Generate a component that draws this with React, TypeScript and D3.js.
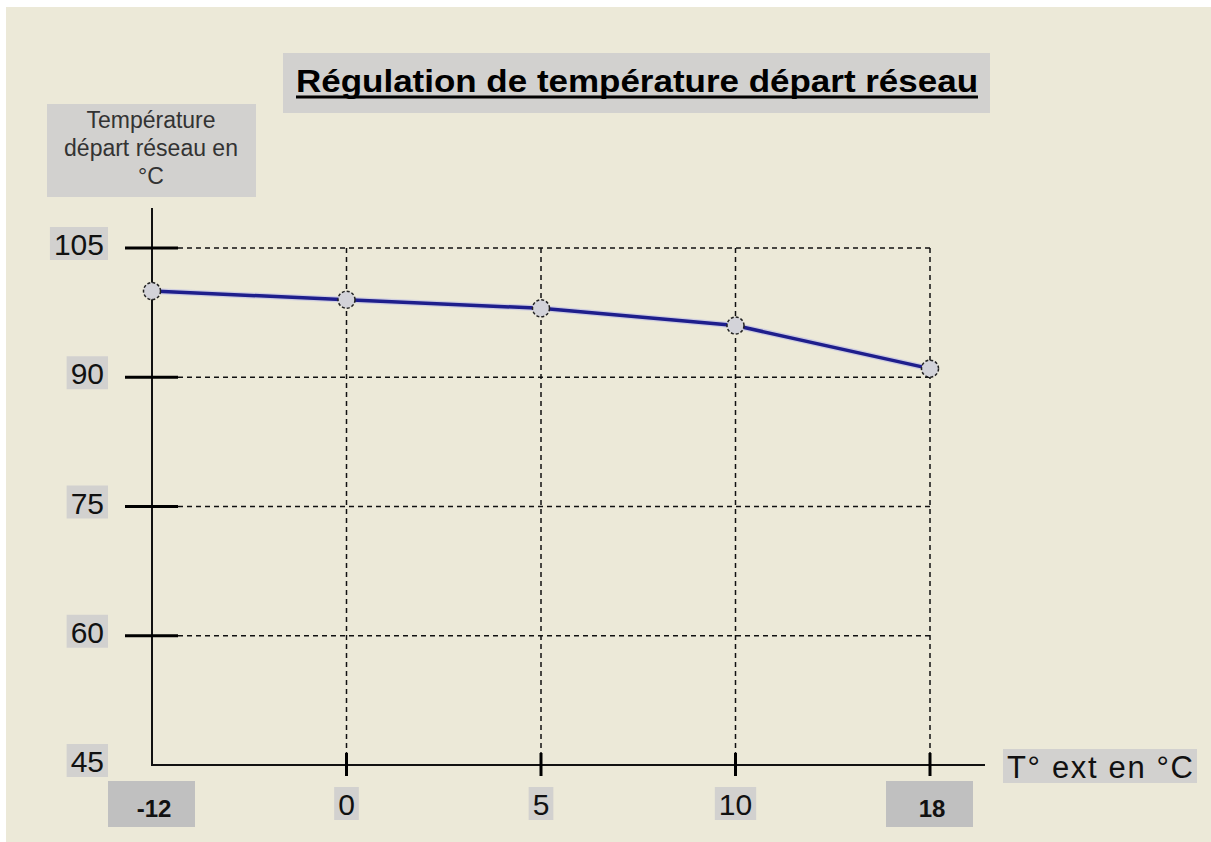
import React, { useRef, useEffect } from "react";
import * as d3 from "d3";

// data
const categories = ["-12", "0", "5", "10", "18"];
const temperatures = [100, 99, 98, 96, 91];
const yTicks = [45, 60, 75, 90, 105];
const title = "Régulation de température départ réseau";
const yLabel = ["Température", "départ réseau en", "°C"];
const xLabel = "T°  ext en °C";

const W = 1211;
const H = 842;
const BG = "#ECE9D8";
const BOX = "#D2D1CF";
const BOX_DARK = "#C0C0C0";
const FONT = "'Liberation Sans', Arial, sans-serif";

const App = () => {
  const ref = useRef<SVGSVGElement>(null);

  useEffect(() => {
    const svg = d3.select(ref.current);
    svg.selectAll("*").remove();

    svg.append("rect")
      .attr("x", 6).attr("y", 7)
      .attr("width", W - 6).attr("height", H - 7)
      .attr("fill", BG);

    const x = d3.scalePoint<string>().domain(categories).range([152, 930]);
    const y = d3.scaleLinear().domain([45, 105]).range([765, 248]);
    const xEnd = x(categories[categories.length - 1]) as number;

    // title
    svg.append("rect").attr("x", 283).attr("y", 53).attr("width", 707).attr("height", 60).attr("fill", BOX);
    const t = svg.append("text")
      .attr("x", 637).attr("y", 92)
      .attr("text-anchor", "middle")
      .attr("font-family", FONT).attr("font-weight", "bold").attr("font-size", 32)
      .attr("textLength", 682).attr("lengthAdjust", "spacingAndGlyphs")
      .text(title);
    const tb = (t.node() as SVGTextElement).getBBox();
    svg.append("line")
      .attr("x1", tb.x).attr("x2", tb.x + tb.width)
      .attr("y1", 97).attr("y2", 97)
      .attr("stroke", "#000").attr("stroke-width", 3);

    // y axis title
    svg.append("rect").attr("x", 47).attr("y", 104).attr("width", 209).attr("height", 93).attr("fill", BOX);
    svg.append("g").selectAll("text")
      .data(yLabel)
      .enter()
      .append("text")
      .attr("x", 151)
      .attr("y", (_, i) => 128 + i * 28)
      .attr("text-anchor", "middle")
      .attr("font-family", FONT).attr("font-size", 23).attr("fill", "#333")
      .text(d => d);

    // grid
    const grid = svg.append("g").attr("stroke", "#111").attr("stroke-width", 1.5).attr("stroke-dasharray", "5,4");
    grid.selectAll("line.h")
      .data(yTicks.filter(v => v !== 45))
      .enter()
      .append("line")
      .attr("x1", 178).attr("x2", xEnd)
      .attr("y1", d => y(d)).attr("y2", d => y(d));
    grid.selectAll("line.v")
      .data(categories.slice(1))
      .enter()
      .append("line")
      .attr("x1", d => x(d) as number).attr("x2", d => x(d) as number)
      .attr("y1", y(105)).attr("y2", y(45));

    // axes
    svg.append("line").attr("x1", 152).attr("x2", 152).attr("y1", 208).attr("y2", 766)
      .attr("stroke", "#111").attr("stroke-width", 2);
    svg.append("line").attr("x1", 152).attr("x2", 985).attr("y1", 765).attr("y2", 765)
      .attr("stroke", "#111").attr("stroke-width", 2);

    // y ticks + labels
    svg.append("g").selectAll("line")
      .data(yTicks.filter(v => v !== 45))
      .enter()
      .append("line")
      .attr("x1", 125).attr("x2", 178)
      .attr("y1", d => y(d)).attr("y2", d => y(d))
      .attr("stroke", "#000").attr("stroke-width", 3);

    const yl = svg.append("g");
    yTicks.forEach(v => {
      const g = yl.append("g");
      const bx = g.append("rect").attr("fill", BOX);
      const tx = g.append("text")
        .attr("x", 104).attr("y", y(v) + 7)
        .attr("text-anchor", "end")
        .attr("font-family", FONT).attr("font-size", 30).attr("fill", "#111")
        .text(v);
      const b = (tx.node() as SVGTextElement).getBBox();
      bx.attr("x", b.x - 4).attr("width", b.width + 8)
        .attr("y", y(v) - 21).attr("height", 33);
    });

    // x ticks + labels
    svg.append("g").selectAll("line")
      .data(categories.slice(1))
      .enter()
      .append("line")
      .attr("x1", d => x(d) as number).attr("x2", d => x(d) as number)
      .attr("y1", 753).attr("y2", 776)
      .attr("stroke", "#000").attr("stroke-width", 3);

    const xl = svg.append("g");
    categories.forEach((c, i) => {
      const cx = x(c) as number;
      const edge = i === 0 || i === categories.length - 1;
      const g = xl.append("g");
      const bx = g.append("rect").attr("fill", edge ? BOX_DARK : BOX);
      const tx = g.append("text")
        .attr("x", edge ? cx + 2 : cx)
        .attr("y", edge ? 817 : 815)
        .attr("text-anchor", "middle")
        .attr("font-family", FONT)
        .attr("font-size", edge ? 24 : 30)
        .attr("font-weight", edge ? "bold" : "normal")
        .attr("fill", "#111")
        .text(c);
      if (edge) {
        bx.attr("x", cx - 44).attr("width", 87).attr("y", 781).attr("height", 46);
      } else {
        const b = (tx.node() as SVGTextElement).getBBox();
        bx.attr("x", b.x - 4).attr("width", b.width + 8).attr("y", 787).attr("height", 33);
      }
    });

    // x axis title
    svg.append("rect").attr("x", 1003).attr("y", 749).attr("width", 194).attr("height", 34).attr("fill", BOX);
    svg.append("text")
      .attr("x", 1007).attr("y", 778)
      .attr("font-family", FONT).attr("font-size", 31).attr("fill", "#111")
      .attr("textLength", 186).attr("lengthAdjust", "spacing")
      .text(xLabel);

    // series
    const line = d3.line<number>()
      .x((_, i) => x(categories[i]) as number)
      .y(d => y(d));
    svg.append("path").datum(temperatures)
      .attr("d", line)
      .attr("fill", "none")
      .attr("stroke", "#B9B9E6").attr("stroke-width", 6).attr("opacity", 0.6);
    svg.append("path").datum(temperatures)
      .attr("d", line)
      .attr("fill", "none")
      .attr("stroke", "#1E1E8C").attr("stroke-width", 3.5);

    svg.append("g").selectAll("circle")
      .data(temperatures)
      .enter()
      .append("circle")
      .attr("cx", (_, i) => x(categories[i]) as number)
      .attr("cy", d => y(d))
      .attr("r", 8.5)
      .attr("fill", "#D3D3D9")
      .attr("stroke", "#222").attr("stroke-width", 1.5).attr("stroke-dasharray", "3,2");
  }, []);

  return (
    <svg ref={ref} width={W} height={H}
      style={{ position: "absolute", left: 0, top: 0, background: "#fff" }} />
  );
};

export default App;
